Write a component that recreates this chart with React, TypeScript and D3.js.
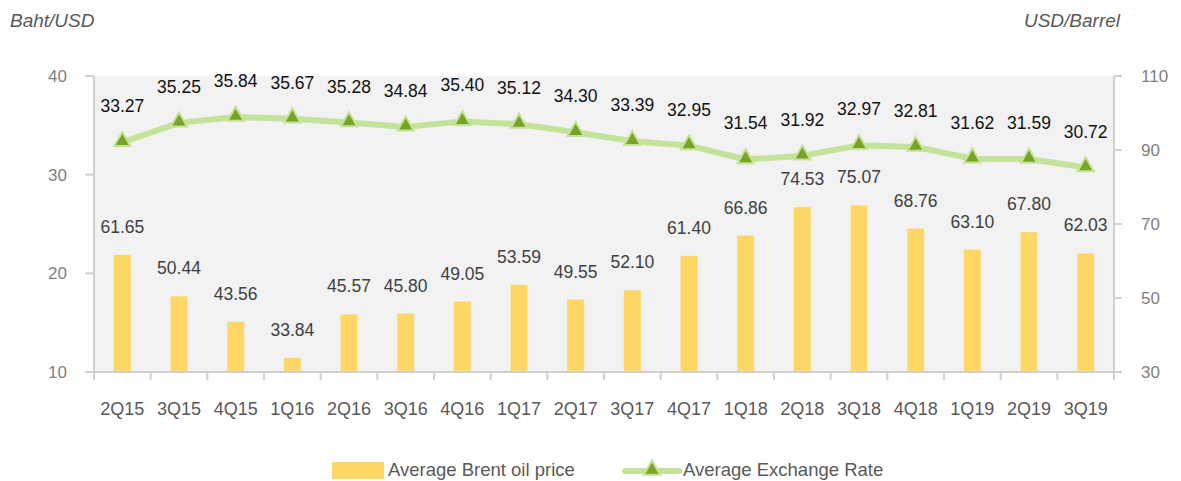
import React from "react";
import * as d3 from "d3";

const categories = ["2Q15","3Q15","4Q15","1Q16","2Q16","3Q16","4Q16","1Q17","2Q17","3Q17","4Q17","1Q18","2Q18","3Q18","4Q18","1Q19","2Q19","3Q19"];
const brentPrice = [61.65,50.44,43.56,33.84,45.57,45.80,49.05,53.59,49.55,52.10,61.40,66.86,74.53,75.07,68.76,63.10,67.80,62.03];
const exchangeRate = [33.27,35.25,35.84,35.67,35.28,34.84,35.40,35.12,34.30,33.39,32.95,31.54,31.92,32.97,32.81,31.62,31.59,30.72];
const leftTicks = [10,20,30,40];
const rightTicks = [30,50,70,90,110];

const W = 1181, H = 481;
const L = 94, R = 1114, T = 76, B = 372;
const FONT = "'Liberation Sans', Arial, sans-serif";

export default function App() {
  const x = d3.scaleBand<string>().domain(categories).range([L, R]).paddingInner(0).paddingOuter(0);
  const yL = d3.scaleLinear().domain([10, 40]).range([B, T]);
  const yR = d3.scaleLinear().domain([30, 110]).range([B, T]);
  const bw = x.bandwidth();
  const barW = bw * 0.3;
  const cx = (c: string) => (x(c) as number) + bw / 2;
  const line = d3.line<number>().x((_, i) => cx(categories[i])).y(d => yL(d));
  const tri = d3.symbol().type(d3.symbolTriangle).size(115)();
  const axisColor = "#D0D0D0";
  return (
    <svg width={W} height={H} style={{ position: "absolute", left: 0, top: 0, fontFamily: FONT }}>
      <rect x={0} y={0} width={W} height={H} fill="#fff" />
      <rect x={L} y={T} width={R - L} height={B - T} fill="#F2F2F2" />
      {/* bars */}
      {brentPrice.map((v, i) => (
        <rect key={"b" + i} x={cx(categories[i]) - barW / 2} y={yR(v)} width={barW} height={B - yR(v)} fill="#FED766" />
      ))}
      {/* axes */}
      <line x1={L} x2={L} y1={T} y2={B + 8} stroke={axisColor} strokeWidth={2} />
      <line x1={R} x2={R} y1={T} y2={B + 8} stroke={axisColor} strokeWidth={2} />
      <line x1={L} x2={R} y1={B} y2={B} stroke={axisColor} strokeWidth={2} />
      {categories.map((c, i) => (
        <line key={"xt" + i} x1={x(c) as number} x2={x(c) as number} y1={B} y2={B + 8} stroke={axisColor} strokeWidth={2} />
      ))}
      {leftTicks.map(t => (
        <g key={"lt" + t}>
          <line x1={L - 9} x2={L} y1={yL(t)} y2={yL(t)} stroke={axisColor} strokeWidth={2} />
          <text x={L - 27} y={yL(t) + 6} textAnchor="end" fontSize={17} fill="#7F7F7F">{t}</text>
        </g>
      ))}
      {rightTicks.map(t => (
        <g key={"rt" + t}>
          <line x1={R} x2={R + 8} y1={yR(t)} y2={yR(t)} stroke={axisColor} strokeWidth={2} />
          <text x={R + 27} y={yR(t) + 6} textAnchor="start" fontSize={17} fill="#7F7F7F">{t}</text>
        </g>
      ))}
      {categories.map((c, i) => (
        <text key={"xl" + i} x={cx(c)} y={415} textAnchor="middle" fontSize={18} fill="#595959">{c}</text>
      ))}
      {/* line */}
      <path d={line(exchangeRate) || ""} fill="none" stroke="#C5E29B" strokeWidth={6} strokeLinejoin="round" />
      {exchangeRate.map((v, i) => (
        <path key={"m" + i} d={tri || ""} transform={`translate(${cx(categories[i])},${yL(v) - 1})`} fill="#77A424" stroke="#C5E29B" strokeWidth={2} />
      ))}
      {/* labels */}
      {brentPrice.map((v, i) => (
        <text key={"bl" + i} x={cx(categories[i])} y={yR(v) - 22} textAnchor="middle" fontSize={17.5} fill="#404040">{v.toFixed(2)}</text>
      ))}
      {exchangeRate.map((v, i) => (
        <text key={"el" + i} x={cx(categories[i])} y={yL(v) - 30} textAnchor="middle" fontSize={17.5} fill="#111">{v.toFixed(2)}</text>
      ))}
      <text x={10} y={27} fontSize={19} fontStyle="italic" fill="#595959">Baht/USD</text>
      <text x={1120} y={27} fontSize={19} fontStyle="italic" fill="#595959" textAnchor="end">USD/Barrel</text>
      {/* legend */}
      <rect x={332} y={462} width={52} height={17} fill="#FED766" />
      <text x={388} y={476} fontSize={18.5} fill="#595959">Average Brent oil price</text>
      <line x1={625} x2={679} y1={471} y2={471} stroke="#C5E29B" strokeWidth={6} strokeLinecap="round" />
      <path d={tri || ""} transform="translate(652,470)" fill="#77A424" stroke="#C5E29B" strokeWidth={2} />
      <text x={683} y={476} fontSize={18.5} fill="#595959">Average Exchange Rate</text>
    </svg>
  );
}
